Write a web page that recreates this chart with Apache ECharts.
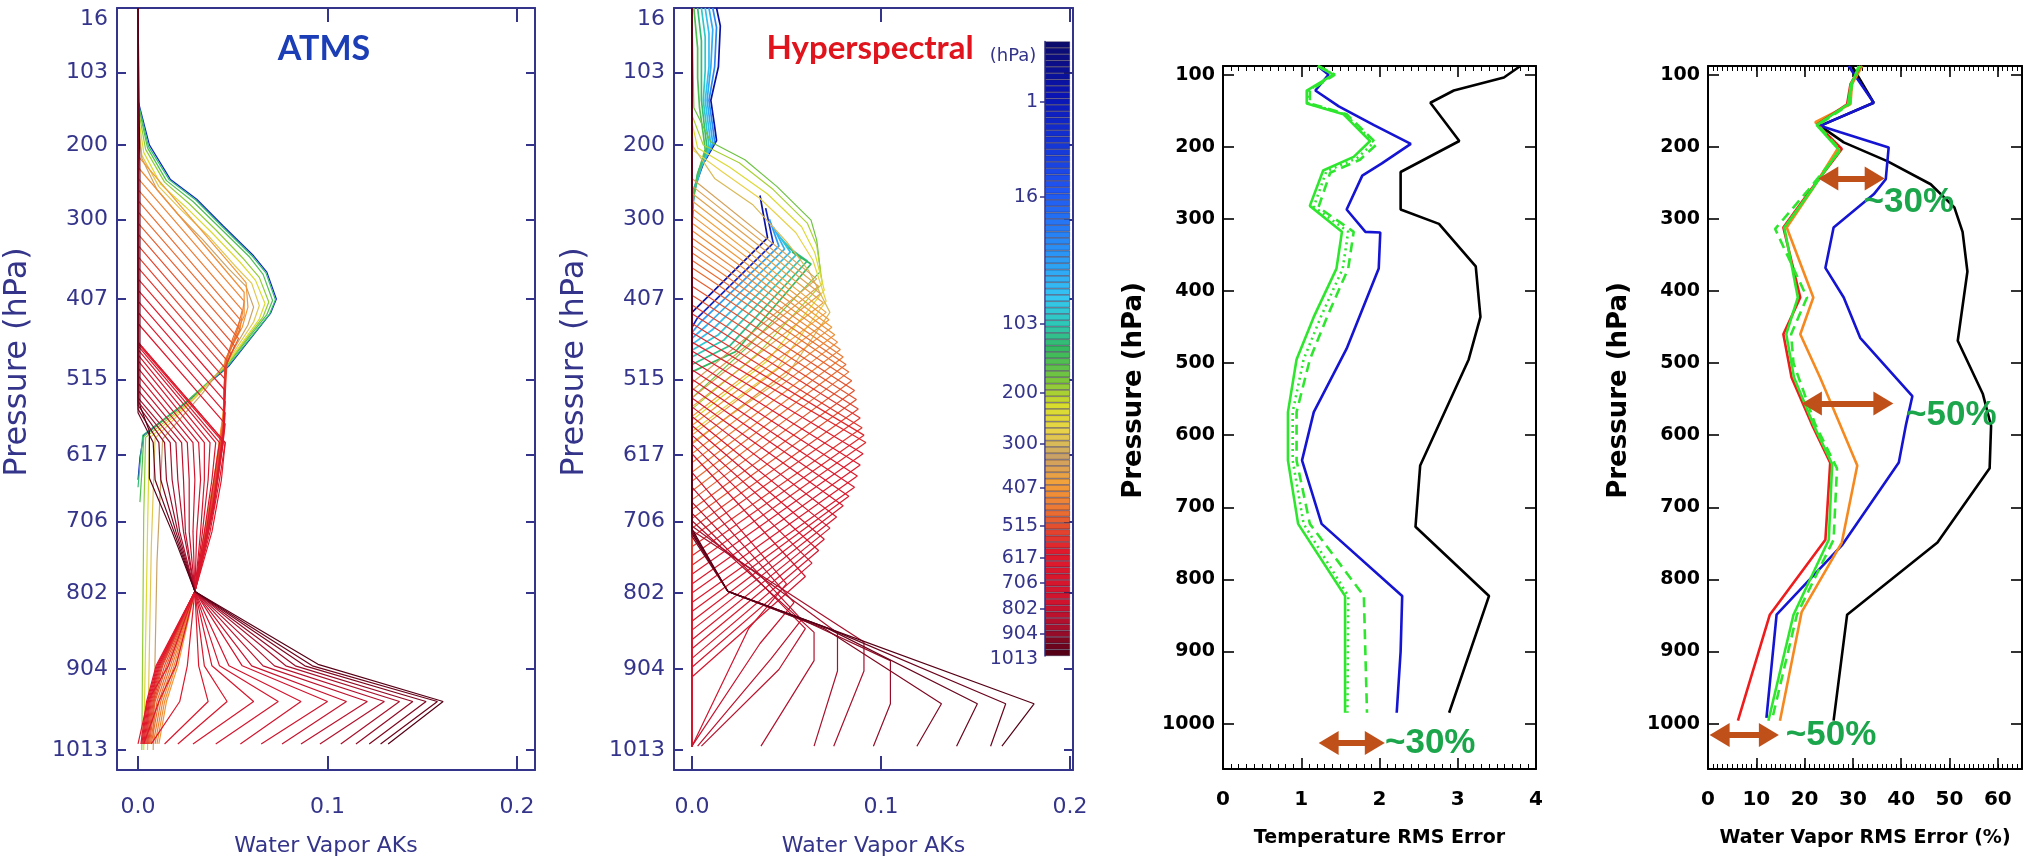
<!DOCTYPE html>
<html>
<head>
<meta charset="utf-8">
<script src="https://cdn.jsdelivr.net/npm/echarts@6/dist/echarts.min.js"></script>
<style>
  html, body { margin: 0; padding: 0; background: #ffffff; }
  #chart { width: 2026px; height: 862px; }
</style>
</head>
<body>
<div id="chart"></div>
<script>
// ---------------------------------------------------------------------------
// Pressure grid (hPa) of the retrieval levels, top of atmosphere to surface
// ---------------------------------------------------------------------------
const airsLevels = [0.0161, 0.0384, 0.0769, 0.137, 0.2244, 0.3454, 0.5064, 0.714, 0.9753, 1.2972,
  1.6872, 2.1526, 2.7009, 3.3398, 4.077, 4.9204, 5.8776, 6.9567, 8.1655, 9.5119,
  11.0038, 12.6492, 14.4559, 16.4318, 18.5847, 20.9224, 23.4526, 26.1829, 29.121, 32.2744,
  35.6505, 39.2566, 43.1001, 47.1882, 51.5278, 56.126, 60.9895, 66.1253, 71.5398, 77.2396,
  83.231, 89.5204, 96.1138, 103.017, 110.237, 117.777, 125.646, 133.846, 142.385, 151.266,
  160.496, 170.078, 180.018, 190.32, 200.989, 212.028, 223.441, 235.234, 247.408, 259.969,
  272.919, 286.262, 300, 314.137, 328.675, 343.618, 358.966, 374.724, 390.893, 407.474,
  424.47, 441.882, 459.712, 477.961, 496.63, 515.72, 535.232, 555.167, 575.525, 596.306,
  617.511, 639.14, 661.192, 683.667, 706.565, 729.886, 753.628, 777.79, 802.371, 827.371,
  852.788, 878.62, 904.866, 931.524, 958.591, 986.067, 1013.95];

// colour bar tick positions (level index) and their labels
const colorbarTickIndex = [8, 23, 43, 54, 62, 69, 75, 80, 84, 88, 92, 96];
const colorbarTickText = ['1', '16', '103', '200', '300', '407', '515', '617', '706', '802', '904', '1013'];

// axis tick values
const akPressureTicks = [16, 103, 200, 300, 407, 515, 617, 706, 802, 904, 1013];
const akValueTicks = [0, 0.1, 0.2];
const rmsPressureTicks = [100, 200, 300, 400, 500, 600, 700, 800, 900, 1000];

// ---------------------------------------------------------------------------
// ATMS water vapour averaging kernels: [AK, pressure] vertices, one row per level
// ---------------------------------------------------------------------------
const atmsLevels = [3, 130, 160, 200, 250, 300, 350,
  430, 445, 460, 475, 490, 505, 520, 535, 550, 565, 580, 595, 610, 625, 640, 655,
  617, 639, 661, 684, 707, 730, 754, 778, 802, 827, 853, 878, 905, 932, 959, 986, 1013];

const atmsKernels = [
  [[0,16],[0,140],[0.006,200],[0.017,246],[0.031,273],[0.045,309],[0.061,349],[0.068,371],[0.073,407],[0.070,426],[0.048,497],[0.026,545],[0.003,590],[0.001,620],[0,650]],
  [[0,16],[0,142],[0.0055,202],[0.0165,247],[0.0305,274],[0.0445,310],[0.0605,350],[0.0675,372],[0.0725,408],[0.0695,427],[0.0475,497],[0.0255,545],[0.0025,590],[0.001,630],[0,660]],
  [[0,16],[0,145],[0.005,204],[0.015,248],[0.029,276],[0.043,311],[0.059,351],[0.066,374],[0.071,409],[0.068,428],[0.047,496],[0.025,546],[0.003,592],[0.002,640],[0.001,680]],
  [[0,16],[0,150],[0.004,206],[0.014,250],[0.027,279],[0.041,314],[0.056,354],[0.064,378],[0.069,411],[0.066,431],[0.047,495],[0.027,545],[0.004,593],[0.003,700],[0.002,1013]],
  [[0,16],[0,158],[0.003,210],[0.012,253],[0.025,283],[0.039,318],[0.054,358],[0.062,382],[0.067,413],[0.064,434],[0.047,494],[0.029,542],[0.006,594],[0.005,720],[0.003,1013]],
  [[0,16],[0,166],[0.002,214],[0.011,256],[0.023,288],[0.037,322],[0.051,362],[0.060,386],[0.064,416],[0.061,438],[0.047,492],[0.031,538],[0.009,594],[0.007,740],[0.005,1013]],
  [[0,16],[0,175],[0.002,218],[0.010,260],[0.021,293],[0.034,327],[0.048,367],[0.057,390],[0.061,418],[0.058,442],[0.047,490],[0.034,534],[0.013,595],[0.010,760],[0.008,1013]],
  [[0,16],[0,215],[0.057,385],[0.058,418],[0.055,445],[0.046,488],[0.045,560],[0.040,650],[0.033,750],[0.030,800],[0.021,900],[0.015,948],[0.011,1005]],
  [[0,16],[0,230],[0.056,398],[0.056,430],[0.052,452],[0.046,490],[0.045,562],[0.040,652],[0.033,751],[0.030,800],[0.020,900],[0.014,948],[0.010,1005]],
  [[0,16],[0,245],[0.056,410],[0.054,445],[0.046,492],[0.045,565],[0.040,655],[0.033,752],[0.030,800],[0.019,900],[0.013,948],[0.009,1005]],
  [[0,16],[0,260],[0.055,422],[0.052,452],[0.046,494],[0.045,567],[0.040,657],[0.033,753],[0.030,800],[0.018,900],[0.012,948],[0.008,1005]],
  [[0,16],[0,275],[0.054,435],[0.050,460],[0.046,495],[0.045,570],[0.040,660],[0.033,755],[0.030,800],[0.017,900],[0.011,948],[0.007,1005]],
  [[0,16],[0,290],[0.054,448],[0.048,478],[0.046,496],[0.045,572],[0.040,662],[0.033,756],[0.030,800],[0.016,900],[0.010,948],[0.0065,1005]],
  [[0,16],[0,305],[0.053,460],[0.046,498],[0.045,575],[0.040,665],[0.033,758],[0.030,800],[0.015,900],[0.009,948],[0.006,1005]],
  [[0,16],[0,320],[0.051,470],[0.046,499],[0.045,578],[0.040,667],[0.033,759],[0.030,800],[0.014,900],[0.0085,948],[0.0055,1005]],
  [[0,16],[0,335],[0.049,480],[0.046,500],[0.045,580],[0.040,670],[0.033,760],[0.030,800],[0.013,900],[0.008,948],[0.005,1005]],
  [[0,16],[0,350],[0.047,490],[0.045,582],[0.040,672],[0.033,761],[0.030,800],[0.0125,900],[0.0075,948],[0.0045,1005]],
  [[0,16],[0,365],[0.046,500],[0.045,585],[0.040,675],[0.033,762],[0.030,800],[0.012,900],[0.007,948],[0.004,1005]],
  [[0,16],[0,380],[0.046,515],[0.045,587],[0.040,677],[0.033,763],[0.030,800],[0.0115,900],[0.0065,948],[0.0035,1005]],
  [[0,16],[0,395],[0.046,530],[0.045,590],[0.040,680],[0.033,765],[0.030,800],[0.011,900],[0.006,948],[0.003,1005]],
  [[0,16],[0,410],[0.046,545],[0.045,592],[0.040,682],[0.033,766],[0.030,800],[0.0105,900],[0.0055,948],[0.0025,1005]],
  [[0,16],[0,425],[0.046,560],[0.045,595],[0.040,685],[0.033,768],[0.030,800],[0.010,900],[0.005,948],[0.002,1005]],
  [[0,16],[0,440],[0.046,575],[0.045,597],[0.040,687],[0.033,769],[0.030,800],[0.0095,900],[0.0045,948],[0.0015,1005]],
  [[0,16],[0,465],[0.046,600],[0.044,650],[0.039,720],[0.030,800],[0.016,900],[0.005,948],[0.000,1005]],
  [[0,16],[0,465],[0.046,600],[0.043,650],[0.038,720],[0.030,800],[0.020,900],[0.011,948],[0.003,1005]],
  [[0,16],[0,467],[0.045,600],[0.042,650],[0.037,720],[0.030,800],[0.026,900],[0.022,948],[0.007,1005]],
  [[0,16],[0,470],[0.043,600],[0.040,650],[0.036,720],[0.030,800],[0.032,900],[0.037,948],[0.014,1005]],
  [[0,16],[0,475],[0.041,600],[0.039,650],[0.035,720],[0.030,800],[0.035,900],[0.047,948],[0.021,1005]],
  [[0,16],[0,482],[0.038,600],[0.037,650],[0.034,720],[0.030,800],[0.039,900],[0.061,948],[0.029,1005]],
  [[0,16],[0,490],[0.035,600],[0.035,650],[0.033,720],[0.030,800],[0.043,900],[0.074,948],[0.041,1005]],
  [[0,16],[0,500],[0.032,600],[0.033,650],[0.031,720],[0.030,800],[0.048,900],[0.086,948],[0.054,1005]],
  [[0,16],[0,510],[0.029,600],[0.030,650],[0.029,720],[0.030,800],[0.055,900],[0.100,948],[0.065,1005]],
  [[0,16],[0,520],[0.026,600],[0.027,650],[0.027,720],[0.030,800],[0.060,900],[0.110,948],[0.076,1005]],
  [[0,16],[0,530],[0.023,600],[0.024,650],[0.025,720],[0.030,800],[0.066,900],[0.121,948],[0.086,1005]],
  [[0,16],[0,540],[0.020,600],[0.021,650],[0.024,720],[0.030,800],[0.072,900],[0.130,948],[0.096,1005]],
  [[0,16],[0,545],[0.017,600],[0.018,650],[0.022,720],[0.030,800],[0.078,900],[0.138,948],[0.107,1005]],
  [[0,16],[0,550],[0.014,600],[0.015,650],[0.021,720],[0.030,800],[0.083,900],[0.145,948],[0.115,1005]],
  [[0,16],[0,555],[0.011,600],[0.012,650],[0.020,720],[0.030,800],[0.088,900],[0.152,948],[0.122,1005]],
  [[0,16],[0,560],[0.008,600],[0.009,650],[0.019,720],[0.030,800],[0.092,900],[0.158,948],[0.128,1005]],
  [[0,16],[0.001,240],[0.001,550],[0.006,585],[0.006,648],[0.018,720],[0.030,800],[0.095,898],[0.161,948],[0.132,1005]]
];

// ---------------------------------------------------------------------------
// Hyperspectral water vapour averaging kernels
// ---------------------------------------------------------------------------
const hyperLevels = [0.5, 40, 60, 80, 100, 130, 160,
  0.5, 3, 50, 65, 80, 95, 110, 125, 140,
  180, 215, 250, 285, 320,
  360, 370, 380, 393, 407, 418, 430, 442, 455, 467, 480, 492, 505, 517, 530, 542, 555, 567,
  580, 592, 605, 617, 630, 642, 655, 667, 680, 692, 705, 717, 730, 742, 755,
  790, 815, 840, 853, 878, 895, 915, 932, 959, 975, 990, 1013];

const hyperKernels = [
  [[0.013,16],[0.015,40],[0.014,95],[0.010,140],[0.012,175],[0.013,194],[0.006,225],[0.001,260],[0,300]],
  [[0.011,16],[0.013,42],[0.012,95],[0.009,140],[0.011,176],[0.012,196],[0.005,228],[0.001,262],[0,305]],
  [[0.009,16],[0.011,45],[0.010,95],[0.008,140],[0.010,178],[0.011,198],[0.005,230],[0.001,265],[0,310]],
  [[0.007,16],[0.009,50],[0.009,95],[0.007,140],[0.009,180],[0.010,200],[0.004,232],[0,270]],
  [[0.005,16],[0.007,55],[0.007,100],[0.006,140],[0.008,182],[0.009,202],[0.004,235],[0,275]],
  [[0.003,16],[0.005,60],[0.005,100],[0.005,140],[0.007,184],[0.008,204],[0.003,238],[0,280]],
  [[0.001,16],[0.003,70],[0.003,110],[0.004,150],[0.006,186],[0.007,206],[0.003,240],[0,285]],
  [[0.036,268],[0.040,325],[0.000,425]],
  [[0.039,285],[0.043,332],[0.003,432],[0,445]],
  [[0.041,300],[0.046,336],[0.005,437],[0,452]],
  [[0.043,310],[0.049,340],[0.008,442],[0,460]],
  [[0.045,318],[0.052,344],[0.011,448],[0,468]],
  [[0.047,325],[0.055,348],[0.014,455],[0,476]],
  [[0.049,332],[0.058,352],[0.017,462],[0,485]],
  [[0.051,338],[0.061,356],[0.020,470],[0,495]],
  [[0.053,344],[0.063,360],[0.023,478],[0,505]],
  [[0,16],[0.001,150],[0.010,196],[0.028,220],[0.045,256],[0.063,301],[0.066,328],[0.068,370],[0.030,470],[0,540]],
  [[0,16],[0,160],[0.006,200],[0.025,224],[0.043,260],[0.061,305],[0.066,335],[0.069,386],[0.035,480],[0,555]],
  [[0,16],[0,170],[0.003,204],[0.020,230],[0.040,266],[0.058,310],[0.065,345],[0.070,395],[0.040,490],[0,570]],
  [[0,16],[0,180],[0.001,208],[0.016,236],[0.036,272],[0.055,318],[0.064,355],[0.071,410],[0.045,500],[0,585]],
  [[0,16],[0,200],[0.012,245],[0.032,280],[0.050,330],[0.062,370],[0.073,425],[0.050,510],[0,600]],
  [[0,16],[0,245],[0.066,380],[0,520],[0,1008]],
  [[0,16],[0,255],[0.067,390],[0,530],[0,1008]],
  [[0,16],[0,265],[0.068,400],[0,540],[0,1008]],
  [[0,16],[0,275],[0.0695,412],[0,552],[0,1008]],
  [[0,16],[0,285],[0.071,425],[0,565],[0,1008]],
  [[0,16],[0,295],[0.0725,435],[0,577],[0,1008]],
  [[0,16],[0,305],[0.074,445],[0,590],[0,1008]],
  [[0,16],[0,315],[0.0755,455],[0,602],[0,1008]],
  [[0,16],[0,325],[0.077,465],[0,615],[0,1008]],
  [[0,16],[0,335],[0.0785,475],[0,627],[0,1008]],
  [[0,16],[0,345],[0.080,485],[0,640],[0,1008]],
  [[0,16],[0,355],[0.0815,495],[0,652],[0,1008]],
  [[0,16],[0,365],[0.083,505],[0,665],[0,1008]],
  [[0,16],[0,377],[0.0845,517],[0,677],[0,1008]],
  [[0,16],[0,390],[0.086,530],[0,690],[0,1008]],
  [[0,16],[0,402],[0.087,542],[0,702],[0,1008]],
  [[0,16],[0,415],[0.088,555],[0,715],[0,1008]],
  [[0,16],[0,427],[0.089,567],[0,727],[0,1008]],
  [[0,16],[0,440],[0.090,580],[0,740],[0,1008]],
  [[0,16],[0,452],[0.091,590],[0,752],[0,1008]],
  [[0,16],[0,465],[0.092,600],[0,765],[0,1008]],
  [[0,16],[0,477],[0.0905,615],[0,777],[0,1008]],
  [[0,16],[0,490],[0.089,630],[0,790],[0,1008]],
  [[0,16],[0,502],[0.0875,645],[0,802],[0,1008]],
  [[0,16],[0,515],[0.086,660],[0,815],[0,1008]],
  [[0,16],[0,527],[0.083,672],[0,827],[0,1008]],
  [[0,16],[0,540],[0.080,685],[0,840],[0,1008]],
  [[0,16],[0,552],[0.0765,700],[0,852],[0,1008]],
  [[0,16],[0,565],[0.073,715],[0,865],[0,1008]],
  [[0,16],[0,577],[0.070,730],[0,877],[0,1008]],
  [[0,16],[0,590],[0.067,745],[0,890],[0,1008]],
  [[0,16],[0,602],[0.0635,762],[0,902],[0,1008]],
  [[0,16],[0,615],[0.060,780],[0,915],[0,1008]],
  [[0,16],[0,640],[0.050,790],[0.030,850],[0,1008]],
  [[0,16],[0,660],[0.054,815],[0.036,870],[0,1008]],
  [[0,16],[0,680],[0.058,838],[0.042,890],[0.003,1008]],
  [[0,16],[0,695],[0.060,850],[0.046,905],[0.005,1008]],
  [[0,16],[0,705],[0.0646,855],[0.0646,893],[0.0365,1008]],
  [[0,16],[0,712],[0.077,856],[0.077,907],[0.0646,1008]],
  [[0,16],[0,718],[0.091,868],[0.091,907],[0.075,1008]],
  [[0,16],[0,722],[0.019,800],[0.060,840],[0.105,893],[0.105,951],[0.096,1008]],
  [[0,16],[0,726],[0.019,800],[0.070,850],[0.132,951],[0.119,1008]],
  [[0,16],[0,722],[0.019,800],[0.072,850],[0.151,951],[0.140,1008]],
  [[0,16],[0,719],[0.019,800],[0.0725,850],[0.166,951],[0.158,1008]],
  [[0,16],[0,716],[0.019,800],[0.0726,850],[0.181,951],[0.164,1008]]
];

// ---------------------------------------------------------------------------
// Temperature RMS error profiles: [error, pressure]
// ---------------------------------------------------------------------------
const tempBlack = [[3.80,88],[3.59,104],[2.95,122],[2.65,139],[3.02,192],[2.27,235],[2.27,287],[2.76,307],[3.23,366],[3.29,436],[3.14,495],[2.52,642],[2.46,727],[3.40,823],[2.89,985]];
const tempBlue = [[1.21,88],[1.35,100],[1.18,122],[1.48,144],[1.93,170],[2.40,196],[2.03,223],[1.78,240],[1.58,287],[1.82,318],[2.01,319],[1.99,369],[1.58,480],[1.16,568],[1.01,635],[1.26,723],[2.29,823],[2.27,900],[2.22,985]];
const tempGreen = [[1.21,88],[1.41,100],[1.07,122],[1.07,140],[1.54,155],[1.88,192],[1.67,214],[1.28,233],[1.11,282],[1.52,318],[1.45,369],[1.16,436],[0.94,495],[0.83,568],[0.83,635],[0.96,723],[1.56,823],[1.56,985]];
const tempGreenDot = [[1.21,88],[1.42,100],[1.09,122],[1.09,140],[1.56,155],[1.93,194],[1.71,216],[1.32,234],[1.16,283],[1.60,318],[1.53,369],[1.25,436],[1.03,495],[0.89,568],[0.89,635],[1.03,723],[1.60,823],[1.59,985]];
const tempGreenDash = [[1.22,88],[1.43,100],[1.11,122],[1.11,140],[1.58,155],[1.97,196],[1.75,218],[1.37,236],[1.22,284],[1.67,318],[1.60,369],[1.33,436],[1.11,495],[0.94,568],[0.94,635],[1.11,723],[1.80,823],[1.84,985]];

// ---------------------------------------------------------------------------
// Water vapour RMS error profiles (%): [error, pressure]
// ---------------------------------------------------------------------------
const wvBlack = [[29.8,88],[34.3,139],[23.2,171],[28.1,194],[37.1,220],[46.1,252],[51.0,284],[52.7,318],[53.7,373],[51.7,469],[56.9,543],[58.6,587],[58.3,646],[47.5,749],[28.8,849],[26.0,996]];
const wvBlue = [[29.1,88],[34.3,139],[23.2,171],[27.4,180],[37.4,201],[36.8,245],[34.3,266],[26.0,312],[24.3,368],[28.1,409],[31.5,465],[42.3,546],[41.0,585],[39.5,638],[27.7,753],[14.2,849],[12.1,992]];
const wvOrange = [[31.9,88],[29.8,113],[29.5,141],[22.2,166],[27.0,201],[21.5,260],[16.3,312],[21.8,409],[19.1,460],[23.2,520],[27.0,580],[30.9,642],[27.7,749],[19.4,845],[14.9,996]];
const wvRed = [[31.6,88],[29.5,113],[28.8,141],[22.6,169],[27.7,203],[21.0,262],[15.6,312],[19.1,409],[15.6,460],[17.3,520],[21.5,585],[25.3,638],[24.3,745],[12.8,849],[6.2,996]];
const wvGreen = [[31.5,88],[29.6,113],[29.0,141],[22.5,170],[27.2,205],[21.2,262],[15.8,312],[18.6,409],[16.2,460],[17.8,520],[21.8,585],[25.7,640],[25.0,745],[17.7,849],[12.5,996]];
const wvGreenDash = [[31.2,88],[29.8,113],[29.3,141],[22.8,170],[27.4,205],[20.5,262],[13.9,314],[20.5,409],[17.2,460],[17.7,500],[22.2,585],[26.7,646],[26.0,745],[18.4,849],[13.2,996]];

// improvement annotations: arrow span [from, to, pressure] and label [x, pressure, text]
const tempArrows = [[1.35, 1.94, 1027]];
const tempNotes = [[2.07, 1027, '~30%']];
const wvArrows = [[24.9, 34.5, 244], [21.5, 36.3, 556], [2.4, 12.6, 1016]];
const wvNotes = [[32.2, 277, '~30%'], [41.0, 572, '~50%'], [16.1, 1016, '~50%']];

// ---------------------------------------------------------------------------
// Styling helpers
// ---------------------------------------------------------------------------
const NAVY = '#34348a';
const AK_FONT = 'DejaVu Sans';
const RMS_FONT = 'DejaVu Sans';
const ARROW = '#c0501a';
const NOTE_GREEN = '#1ca64c';

// level colour table (index along the pressure grid -> colour)
const colorStops = [[0,'#0b0b6e'],[8,'#0a14b4'],[23,'#1f55f2'],[33,'#2a95f5'],[40,'#36c6f2'],
  [44,'#2ec8b8'],[48,'#34b860'],[53,'#7cc63c'],[57,'#d8dc2c'],[61,'#e8d24a'],[65,'#caa266'],
  [69,'#f2a23a'],[73,'#ec7a34'],[76,'#e4502e'],[80,'#e01a2c'],[88,'#d0142e'],[92,'#a8102c'],[96,'#560016']];

function hexToRgb(h) {
  return [parseInt(h.slice(1, 3), 16), parseInt(h.slice(3, 5), 16), parseInt(h.slice(5, 7), 16)];
}
function colorAtIndex(i) {
  for (let k = 0; k < colorStops.length - 1; k++) {
    const [i0, c0] = colorStops[k];
    const [i1, c1] = colorStops[k + 1];
    if (i >= i0 && i <= i1) {
      const t = (i - i0) / (i1 - i0);
      const a = hexToRgb(c0), b = hexToRgb(c1);
      const c = a.map((v, j) => Math.round(v + (b[j] - v) * t));
      return 'rgb(' + c.join(',') + ')';
    }
  }
  return colorStops[colorStops.length - 1][1];
}
function nearestLevelIndex(p) {
  let best = 0, bd = Infinity;
  airsLevels.forEach((l, i) => {
    const d = Math.abs(Math.log(l) - Math.log(p));
    if (d < bd) { bd = d; best = i; }
  });
  return best;
}
function levelColor(p) { return colorAtIndex(nearestLevelIndex(p)); }
const plainNumber = v => String(v);

// ---------------------------------------------------------------------------
// Axes
// ---------------------------------------------------------------------------
function akX(grid, min, max, pos) {
  const bottom = pos === 'bottom';
  return {
    type: 'value', gridIndex: grid, position: pos, min: min, max: max,
    axisLine: { show: true, onZero: false, lineStyle: { color: NAVY, width: 2 } },
    axisTick: { show: true, inside: true, length: 14, customValues: akValueTicks, lineStyle: { color: NAVY, width: 2 } },
    axisLabel: { show: bottom, customValues: akValueTicks, formatter: v => v.toFixed(1), margin: 26,
      color: NAVY, fontSize: 22, fontFamily: AK_FONT },
    splitLine: { show: false },
    name: bottom ? 'Water Vapor AKs' : '', nameLocation: 'middle', nameGap: 65,
    nameTextStyle: { color: NAVY, fontSize: 22, fontFamily: AK_FONT }
  };
}
function akY(grid, pos) {
  const left = pos === 'left';
  return {
    type: 'value', gridIndex: grid, position: pos, min: 16, max: 1040, inverse: true,
    axisLine: { show: true, onZero: false, lineStyle: { color: NAVY, width: 2 } },
    axisTick: { show: true, inside: true, length: 9, customValues: akPressureTicks, lineStyle: { color: NAVY, width: 2 } },
    axisLabel: { show: left, customValues: akPressureTicks, formatter: plainNumber, margin: 9, color: NAVY,
      fontSize: 22, fontFamily: AK_FONT, verticalAlignMinLabel: 'top' },
    splitLine: { show: false },
    name: left ? 'Pressure (hPa)' : '', nameLocation: 'middle', nameGap: 83,
    nameTextStyle: { color: NAVY, fontSize: 32, fontFamily: AK_FONT, padding: [0, 0, 0, 54] }
  };
}
function rmsX(grid, max, interval, pos, name, minor) {
  const bottom = pos === 'bottom';
  return {
    type: 'value', gridIndex: grid, position: pos, min: 0, max: max, interval: interval,
    axisLine: { show: true, onZero: false, lineStyle: { color: '#000', width: 2 } },
    axisTick: { show: true, inside: true, length: 11, lineStyle: { color: '#000', width: 1.6 } },
    minorTick: { show: minor, splitNumber: 10, length: 5, lineStyle: { color: '#000', width: 1 } },
    axisLabel: { show: bottom, showMaxLabel: max % interval === 0, margin: 21, color: '#000', fontSize: 20,
      fontWeight: 'bold', fontFamily: RMS_FONT },
    splitLine: { show: false },
    name: bottom ? name : '', nameLocation: 'middle', nameGap: 60,
    nameTextStyle: { color: '#000', fontSize: 19, fontWeight: 'bold', fontFamily: RMS_FONT }
  };
}
function minorX(grid, max, pos) {
  return {
    type: 'value', gridIndex: grid, position: pos, min: 0, max: max, interval: 1,
    axisLine: { show: false, onZero: false },
    axisTick: { show: true, inside: true, length: 5, lineStyle: { color: '#000', width: 1 } },
    axisLabel: { show: false }, splitLine: { show: false }
  };
}
function rmsY(grid, pos) {
  const left = pos === 'left';
  return {
    type: 'value', gridIndex: grid, position: pos, min: 88, max: 1063, inverse: true,
    axisLine: { show: true, onZero: false, lineStyle: { color: '#000', width: 2 } },
    axisTick: { show: true, inside: true, length: 11, customValues: rmsPressureTicks, lineStyle: { color: '#000', width: 1.6 } },
    axisLabel: { show: left, customValues: rmsPressureTicks, formatter: plainNumber, margin: 8, color: '#000',
      fontSize: 19, fontWeight: 'bold', fontFamily: RMS_FONT },
    splitLine: { show: false },
    name: left ? 'Pressure (hPa)' : '', nameLocation: 'middle', nameGap: 76,
    nameTextStyle: { color: '#000', fontSize: 26, fontWeight: 'bold', fontFamily: RMS_FONT, padding: [0, 0, 0, 54] }
  };
}

// ---------------------------------------------------------------------------
// Series
// ---------------------------------------------------------------------------
function kernelSeries(kernels, levels, axisIndex, boldCount) {
  return kernels.map((pts, i) => ({
    type: 'line', xAxisIndex: axisIndex, yAxisIndex: axisIndex, data: pts,
    symbol: 'none', silent: true, animation: false,
    lineStyle: { color: levelColor(levels[i]), width: i < boldCount ? 1.7 : 1.2 }
  }));
}
function profile(data, color, xIdx, yIdx, type) {
  return {
    type: 'line', xAxisIndex: xIdx, yAxisIndex: yIdx, data: data,
    symbol: 'none', silent: true, animation: false,
    lineStyle: { color: color, width: 2.6, type: type || 'solid' }
  };
}
function withNotes(series, arrows, notes) {
  series.z = 4;
  series.markLine = {
    silent: true, animation: false, symbol: ['triangle', 'triangle'], symbolSize: [24, 20],
    lineStyle: { color: ARROW, width: 6, type: 'solid' },
    itemStyle: { color: ARROW },
    label: { show: false },
    data: arrows.map(a => [{ coord: [a[0], a[2]] }, { coord: [a[1], a[2]] }])
  };
  series.markPoint = {
    silent: true, animation: false, symbol: 'circle', symbolSize: 0,
    label: { show: true, position: 'right', distance: 0, formatter: p => p.name,
      color: NOTE_GREEN, fontSize: 35, fontWeight: 'bold', fontFamily: 'Liberation Sans' },
    data: notes.map(n => ({ name: n[2], coord: [n[0], n[1]] }))
  };
  return series;
}

const series = [];
series.push(...kernelSeries(atmsKernels, atmsLevels, 0, 0));
series.push(...kernelSeries(hyperKernels, hyperLevels, 2, 16));

// colour bar: one band per pressure level
series.push({
  type: 'bar', xAxisIndex: 4, yAxisIndex: 4, silent: true, animation: false,
  barWidth: '100%',
  data: airsLevels.map(p => ({ value: 1, itemStyle: { color: levelColor(p) } })),
  itemStyle: { borderColor: 'rgba(35,25,60,0.75)', borderWidth: 0.6 }
});

// temperature panel (x axes 5/6, y axes 5/6)
series.push(profile(tempBlack, '#000000', 5, 5));
series.push(profile(tempBlue, '#1414d2', 5, 5));
series.push(profile(tempGreen, '#2ee62e', 5, 5));
series.push(profile(tempGreenDot, '#2ee62e', 5, 5, [2, 4]));
series.push(withNotes(profile(tempGreenDash, '#2ee62e', 5, 5, [10, 6]), tempArrows, tempNotes));

// water vapour panel (x axes 7/8, y axes 7/8)
series.push(profile(wvBlack, '#000000', 7, 7));
series.push(profile(wvBlue, '#1414d2', 7, 7));
series.push(profile(wvOrange, '#f5891f', 7, 7));
series.push(profile(wvRed, '#ee1c1c', 7, 7));
series.push(profile(wvGreen, '#2ee62e', 7, 7));
series.push(withNotes(profile(wvGreenDash, '#2ee62e', 7, 7, [10, 6]), wvArrows, wvNotes));

// colour bar labels sit half a band below the level they name
const cbLabelShown = (index) => colorbarTickIndex.indexOf(index) >= 0;
const cbTickShown = (index) => colorbarTickIndex.indexOf(index - 1) >= 0;

const option = {
  backgroundColor: '#ffffff',
  animation: false,
  textStyle: { fontFamily: AK_FONT },
  grid: [
    { left: 117, top: 8, width: 418, height: 762 },
    { left: 674, top: 8, width: 399, height: 762 },
    { left: 1045, top: 41.5, width: 25, height: 614.5 },
    { left: 1223, top: 66, width: 313, height: 703 },
    { left: 1708, top: 66, width: 314, height: 703 }
  ],
  xAxis: [
    akX(0, -0.0111, 0.2095, 'bottom'), akX(0, -0.0111, 0.2095, 'top'),
    akX(1, -0.0095, 0.2016, 'bottom'), akX(1, -0.0095, 0.2016, 'top'),
    { type: 'value', gridIndex: 2, min: 0, max: 1, show: false },
    rmsX(3, 4, 1, 'bottom', 'Temperature RMS Error', true), rmsX(3, 4, 1, 'top', '', true),
    rmsX(4, 65, 10, 'bottom', 'Water Vapor RMS Error (%)', false), rmsX(4, 65, 10, 'top', '', false),
    minorX(4, 65, 'bottom'), minorX(4, 65, 'top')
  ],
  yAxis: [
    akY(0, 'left'), akY(0, 'right'),
    akY(1, 'left'), akY(1, 'right'),
    {
      type: 'category', gridIndex: 2, position: 'left', inverse: true,
      data: airsLevels.map(v => String(v)),
      axisLine: { show: true, lineStyle: { color: NAVY, width: 1.5 } },
      axisTick: { show: true, inside: false, length: 5, alignWithLabel: true, interval: cbTickShown,
        lineStyle: { color: NAVY, width: 1.5 } },
      axisLabel: { show: true, interval: cbLabelShown, margin: 7, color: NAVY, fontSize: 19, fontFamily: AK_FONT,
        verticalAlign: 'top', lineHeight: 13,
        formatter: (v, i) => colorbarTickText[colorbarTickIndex.indexOf(i)] },
      splitLine: { show: false }
    },
    rmsY(3, 'left'), rmsY(3, 'right'),
    rmsY(4, 'left'), rmsY(4, 'right')
  ],
  graphic: [
    { type: 'text', x: 324, y: 49, silent: true,
      style: { text: 'ATMS', fill: '#1b3db5', fontSize: 34, fontWeight: 'bold', fontFamily: 'Lato',
        align: 'center', verticalAlign: 'middle' } },
    { type: 'text', x: 870, y: 48, silent: true,
      style: { text: 'Hyperspectral', fill: '#e0141c', fontSize: 33, fontWeight: 'bold', fontFamily: 'Lato',
        align: 'center', verticalAlign: 'middle' } },
    { type: 'text', x: 1013, y: 56, silent: true,
      style: { text: '(hPa)', fill: NAVY, fontSize: 18, fontFamily: AK_FONT,
        align: 'center', verticalAlign: 'middle' } }
  ],
  series: series
};

const chart = echarts.init(document.getElementById('chart'), null, { renderer: 'canvas', width: 2026, height: 862 });
chart.setOption(option);
</script>
</body>
</html>
